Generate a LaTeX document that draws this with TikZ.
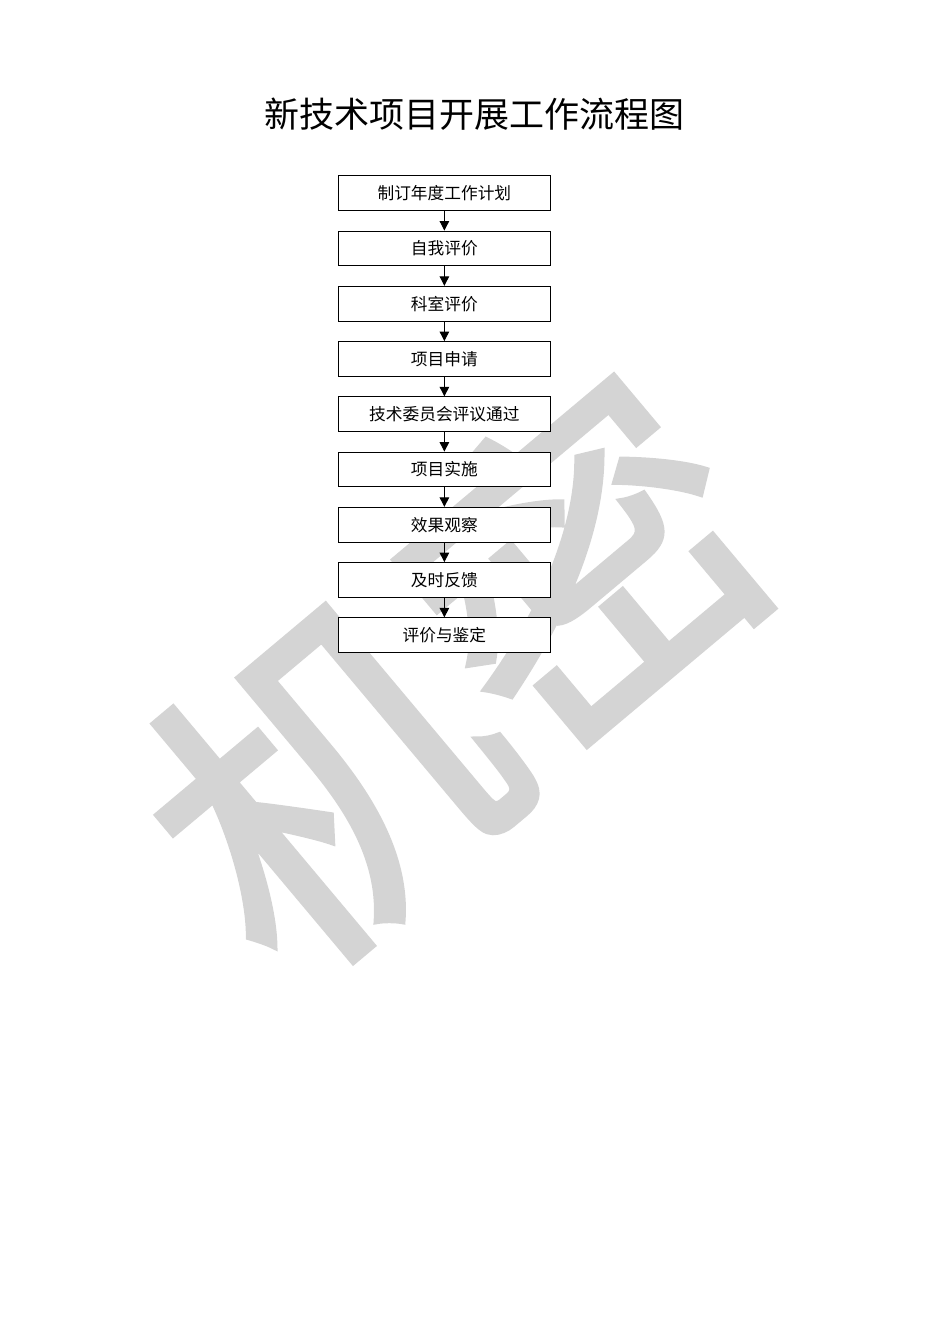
\documentclass[tikz,border=0pt]{standalone}
\usepackage{fontspec}
\setmainfont{Noto Sans CJK SC}
\newfontfamily\titlefont{Noto Sans CJK SC}
\newfontfamily\markfont[FakeBold=2]{Noto Sans CJK SC}
\usetikzlibrary{positioning, arrows.meta}

\tikzset{
    procbox/.style={draw=black, line width=0.6pt, fill=white, minimum width=4.69cm, minimum height=0.77cm, inner sep=0pt, font=\fontsize{10.5pt}{12pt}\selectfont},
    flow/.style={-{Triangle[length=6pt, width=6pt]}, line width=0.6pt}
}

\begin{document}
\begin{tikzpicture}
    \useasboundingbox (0,0) rectangle (21,29.7);
    % watermark
    \node[text=black!17, rotate=40, font=\markfont\fontsize{212pt}{212pt}\selectfont] (mark) at (10.05,14.85) {机密};
    % title
    \node[font=\titlefont\fontsize{22pt}{26pt}\selectfont] (titel) at (10.48,27.18) {新技术项目开展工作流程图};
    % boxes
    \node[procbox] (piano) at (9.82,25.43) {制订年度工作计划};
    \node[procbox, below=0.43cm of piano] (autoval) {自我评价};
    \node[procbox, below=0.43cm of autoval] (repval) {科室评价};
    \node[procbox, below=0.43cm of repval] (domanda) {项目申请};
    \node[procbox, below=0.43cm of domanda] (comitato) {技术委员会评议通过};
    \node[procbox, below=0.43cm of comitato] (attuaz) {项目实施};
    \node[procbox, below=0.43cm of attuaz] (osserv) {效果观察};
    \node[procbox, below=0.43cm of osserv] (feedback) {及时反馈};
    \node[procbox, below=0.43cm of feedback] (giudizio) {评价与鉴定};
    % arrows
    \foreach \a/\b in {piano/autoval, autoval/repval, repval/domanda, domanda/comitato, comitato/attuaz, attuaz/osserv, osserv/feedback, feedback/giudizio}
        \draw[flow] (\a) -- (\b);
\end{tikzpicture}
\end{document}
